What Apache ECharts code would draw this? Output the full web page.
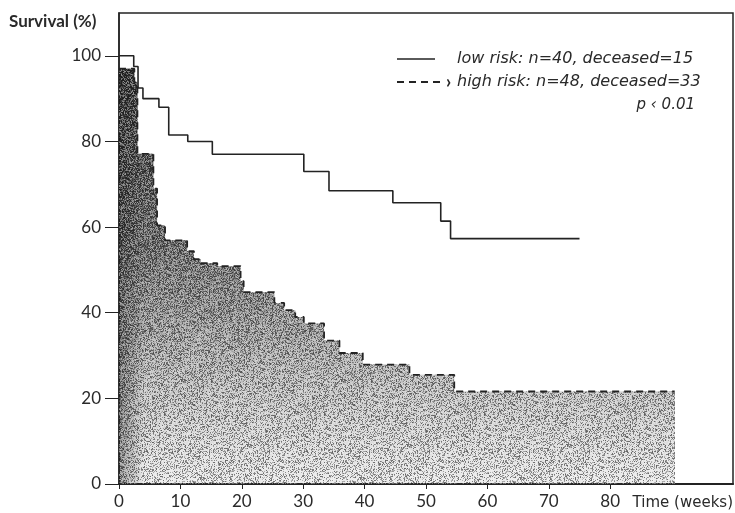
<!DOCTYPE html>
<html>
<head>
<meta charset="utf-8">
<title>Survival by risk group</title>
<script src="https://cdn.jsdelivr.net/npm/echarts@6/dist/echarts.min.js"></script>
<style>
  html, body { margin: 0; padding: 0; background: #fff; }
  #chart { width: 735px; height: 513px; }
</style>
</head>
<body>
<div id="chart"></div>
<script>
// Kaplan-Meier survival estimates: [time in weeks, survival %]
const lowRisk = [
  [0, 100], [2.4, 97.5], [3.1, 92.5], [3.9, 90], [6.5, 88], [8.1, 81.5],
  [11.2, 80], [15.2, 77], [30.1, 73], [34.2, 68.5], [44.6, 65.7],
  [52.4, 61.4], [54, 57.3], [75, 57.3]
];
const highRisk = [
  [0, 97.0], [2.5, 93.8], [3.0, 77.1], [5.6, 69.0], [6.2, 60.4], [7.5, 56.9],
  [11.1, 54.4], [12.2, 52.5], [13.3, 51.6], [16.0, 50.9], [19.8, 47.4],
  [20.3, 44.8], [25.3, 42.3], [26.9, 40.6], [28.7, 39.0], [30.1, 37.5],
  [33.4, 33.5], [35.9, 30.6], [39.7, 27.9], [47.3, 25.5], [54.6, 21.6],
  [90.5, 21.6]
];
const xTicks = [0, 10, 20, 30, 40, 50, 60, 70, 80];
const yTicks = [0, 20, 40, 60, 80, 100];
const lowLabel = 'low risk: n=40, deceased=15';
const highLabel = 'high risk: n=48, deceased=33';
const pLabel = 'p \u2039 0.01';

const INK = '#232323';
const TEXT = '#2a2a2a';
const FONT = 'Lato, "Noto Sans", sans-serif';
const LEGEND_FONT = '"DejaVu Sans", sans-serif';

// Stippled grain used on the shaded area under the high-risk curve
function makeGrain(size) {
  const c = document.createElement('canvas');
  c.width = size; c.height = size;
  const ctx = c.getContext('2d');
  const img = ctx.createImageData(size, size);
  let s = 12345;
  const rnd = () => { s = (s * 1103515245 + 12345) & 0x7fffffff; return s / 0x7fffffff; };
  for (let i = 0; i < size * size; i++) {
    const r = rnd();
    const o = i * 4;
    if (r < 0.35) {
      img.data[o] = img.data[o + 1] = img.data[o + 2] = 25;
      img.data[o + 3] = Math.round(50 + rnd() * 110);
    } else {
      img.data[o] = img.data[o + 1] = img.data[o + 2] = 255;
      img.data[o + 3] = Math.round(rnd() * 130);
    }
  }
  ctx.putImageData(img, 0, 0);
  return c;
}
const grain = makeGrain(160);

const chart = echarts.init(document.getElementById('chart'), null, { renderer: 'canvas' });

const last = highRisk[highRisk.length - 1];

function shade(name, z, color) {
  return {
    name: name, type: 'line', step: 'end', data: highRisk,
    showSymbol: false, silent: true, z: z,
    lineStyle: { width: 0 },
    areaStyle: { opacity: 1, color: color }
  };
}

chart.setOption({
  animation: false,
  backgroundColor: '#fff',
  grid: {
    left: 119, right: 2, top: 13, bottom: 29,
    show: true, borderColor: INK, borderWidth: 1.5, backgroundColor: 'transparent'
  },
  xAxis: {
    type: 'value', min: 0, max: 100, interval: 10,
    axisLine: { lineStyle: { color: INK, width: 2 } },
    axisTick: { customValues: xTicks, length: 5, lineStyle: { color: INK, width: 1 } },
    axisLabel: { customValues: xTicks, color: TEXT, fontFamily: FONT, fontSize: 17, margin: 9 },
    splitLine: { show: false }
  },
  yAxis: {
    type: 'value', min: 0, max: 110, interval: 20,
    axisLine: { show: true, lineStyle: { color: INK, width: 1.5 } },
    axisTick: { show: true, customValues: yTicks, length: 14, lineStyle: { color: INK, width: 1 } },
    axisLabel: { customValues: yTicks, color: TEXT, fontFamily: FONT, fontSize: 17, margin: 18 },
    splitLine: { show: false }
  },
  graphic: [
    { type: 'text', left: 9, top: 13, style: { text: 'Survival (%)', fill: TEXT, font: 'bold 17px ' + FONT } },
    { type: 'text', right: 2, top: 496, style: { text: 'Time (weeks)', fill: TEXT, font: '15px ' + LEGEND_FONT } },
    // legend
    { type: 'line', shape: { x1: 397, y1: 59, x2: 435, y2: 59 }, style: { stroke: INK, lineWidth: 1.5 } },
    { type: 'line', shape: { x1: 397, y1: 82, x2: 443, y2: 82 }, style: { stroke: INK, lineWidth: 1.8, lineDash: [7, 5] } },
    { type: 'text', x: 446, y: 82, style: { text: '\u203a', fill: INK, font: 'bold 18px ' + FONT, verticalAlign: 'middle' } },
    { type: 'text', x: 457, y: 59, style: { text: lowLabel, fill: TEXT, font: 'italic 16px ' + LEGEND_FONT, verticalAlign: 'middle' } },
    { type: 'text', x: 457, y: 82, style: { text: highLabel, fill: TEXT, font: 'italic 16px ' + LEGEND_FONT, verticalAlign: 'middle' } },
    { type: 'text', x: 695, y: 105, style: { text: pLabel, fill: TEXT, font: 'italic 15px ' + LEGEND_FONT, verticalAlign: 'middle', align: 'right' } }
  ],
  series: [
    shade('high risk shade', 1, {
      type: 'linear', x: 0, y: 0, x2: 0, y2: 1,
      colorStops: [
        { offset: 0, color: 'rgba(25,25,25,0.92)' },
        { offset: 0.4, color: 'rgba(45,45,45,0.8)' },
        { offset: 0.6, color: 'rgba(65,65,65,0.6)' },
        { offset: 0.8, color: 'rgba(95,95,95,0.38)' },
        { offset: 1, color: 'rgba(130,130,130,0.18)' }
      ]
    }),
    shade('high risk edge', 2, {
      type: 'linear', x: 0, y: 0, x2: 1, y2: 0,
      colorStops: [
        { offset: 0, color: 'rgba(20,20,20,0.55)' },
        { offset: 0.015, color: 'rgba(20,20,20,0.35)' },
        { offset: 0.045, color: 'rgba(20,20,20,0)' },
        { offset: 1, color: 'rgba(20,20,20,0)' }
      ]
    }),
    shade('high risk grain', 3, { image: grain, repeat: 'repeat' }),
    {
      name: 'high risk', type: 'line', step: 'end', data: highRisk,
      showSymbol: false, z: 4,
      lineStyle: { color: INK, width: 1.8, type: [7, 5] },
      markLine: {
        silent: true, symbol: 'none', label: { show: false },
        lineStyle: { color: '#777', width: 1, type: [2, 3] },
        data: [[{ coord: [last[0], 0] }, { coord: [last[0], last[1]] }]]
      }
    },
    {
      name: 'low risk', type: 'line', step: 'end', data: lowRisk,
      showSymbol: false, z: 5,
      lineStyle: { color: INK, width: 1.6, type: 'solid' }
    }
  ]
});
</script>
</body>
</html>
